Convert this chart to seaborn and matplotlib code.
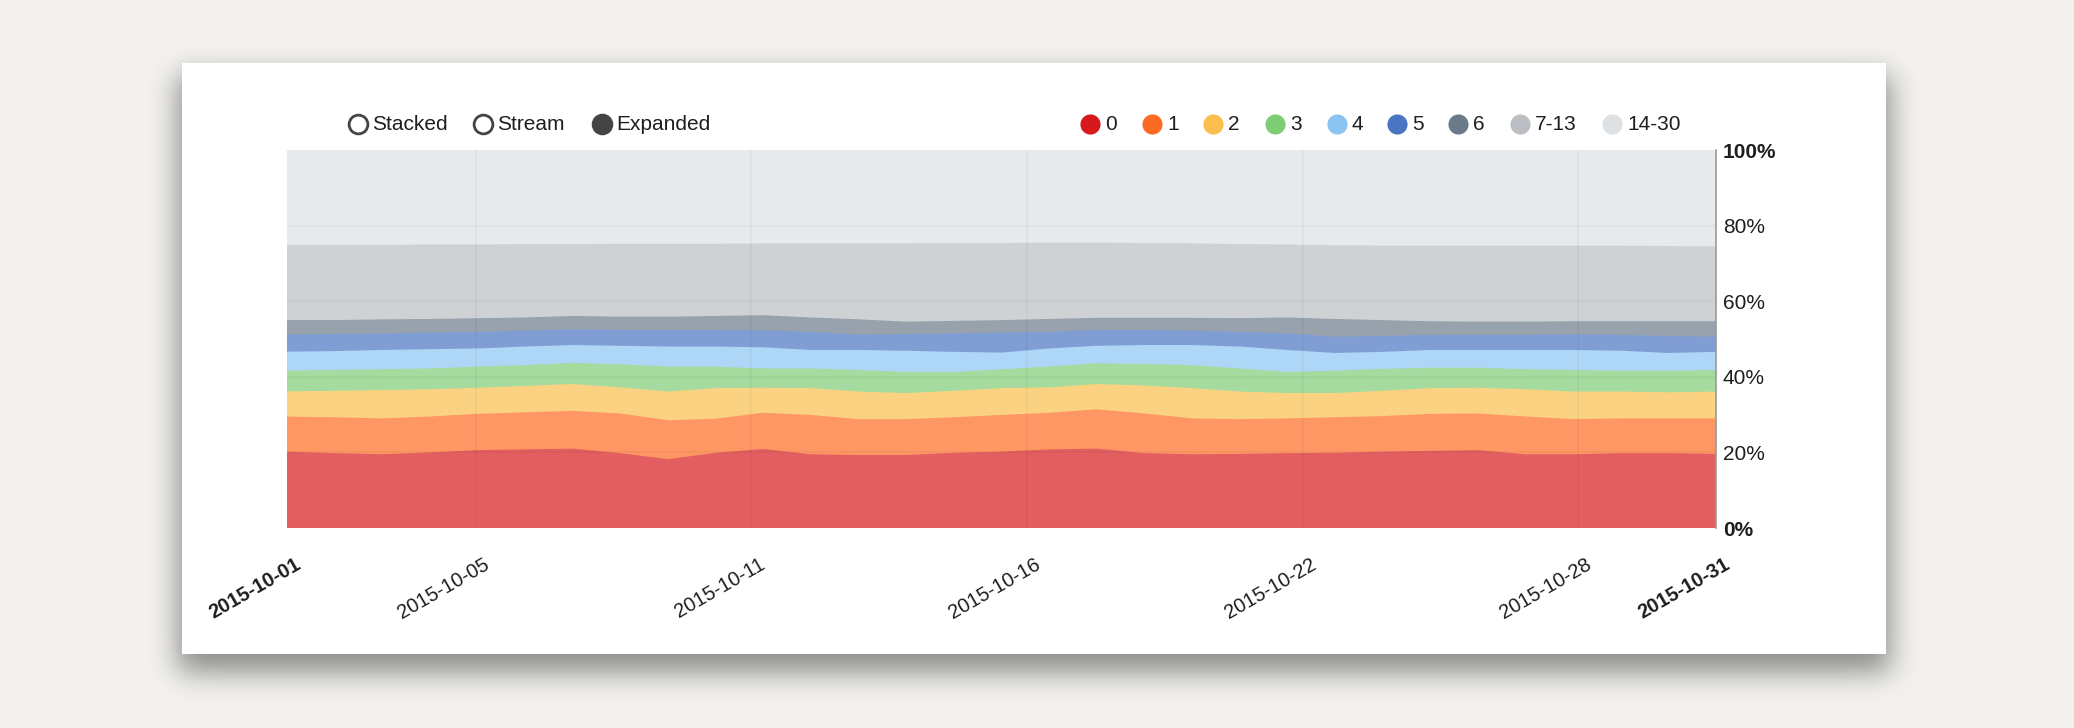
import math
import numpy as np
import pandas as pd
import matplotlib
matplotlib.use("Agg")
import matplotlib.pyplot as plt
import matplotlib.colors as mcolors
from matplotlib.patches import Rectangle
from matplotlib.transforms import ScaledTranslation
import seaborn as sns

# ---------------- data ----------------
dates = pd.date_range("2015-10-01", "2015-10-31", freq="D")
series_names = ["0", "1", "2", "3", "4", "5", "6", "7-13", "14-30"]

share_0 = [20.2, 19.8, 19.5, 20.0, 20.6, 20.8, 21.0, 19.8, 18.2, 19.9, 20.9, 19.5, 19.3, 19.3, 19.9, 20.2,
           20.8, 21.0, 19.8, 19.5, 19.6, 19.8, 19.9, 20.2, 20.4, 20.6, 19.5, 19.5, 19.8, 19.8, 19.6]
share_1 = [9.3, 9.5, 9.5, 9.5, 9.6, 9.8, 10.0, 10.5, 10.3, 9.0, 9.6, 10.4, 9.5, 9.5, 9.4, 9.7,
           9.7, 10.4, 10.5, 9.5, 9.2, 9.2, 9.4, 9.4, 9.8, 9.7, 10.0, 9.3, 9.2, 9.2, 9.4]
share_2 = [6.7, 7.0, 7.5, 7.2, 6.9, 7.0, 7.1, 6.9, 7.6, 8.1, 6.6, 7.1, 7.3, 6.9, 7.0, 7.1,
           6.7, 6.7, 7.4, 8.0, 7.3, 6.7, 6.4, 6.7, 6.8, 6.8, 7.2, 7.3, 7.1, 6.9, 7.1]
share_3 = [5.5, 5.5, 5.5, 5.5, 5.6, 5.5, 5.6, 6.1, 6.6, 5.7, 5.1, 5.2, 5.7, 5.6, 5.0, 5.0,
           5.5, 5.5, 5.7, 6.1, 6.1, 5.6, 5.9, 5.8, 5.4, 5.3, 5.3, 5.7, 5.5, 5.7, 5.7]
share_4 = [5.0, 5.0, 5.1, 5.1, 4.8, 4.9, 4.7, 4.9, 5.3, 5.3, 5.6, 4.9, 5.3, 5.6, 5.3, 4.4,
           4.8, 4.6, 5.0, 5.3, 5.8, 5.8, 4.7, 4.5, 4.7, 4.7, 5.1, 5.3, 5.3, 4.7, 4.8]
share_5 = [4.6, 4.5, 4.4, 4.4, 4.4, 4.2, 4.2, 4.2, 4.4, 4.4, 4.5, 4.8, 4.1, 4.4, 4.9, 5.3,
           4.4, 4.2, 4.0, 3.8, 3.9, 4.4, 4.3, 4.2, 4.0, 4.0, 4.0, 4.1, 4.2, 4.5, 4.0]
share_6 = [3.8, 3.7, 3.7, 3.6, 3.6, 3.5, 3.5, 3.5, 3.5, 3.7, 4.0, 3.8, 4.0, 3.3, 3.3, 3.3,
           3.4, 3.2, 3.2, 3.4, 3.6, 4.2, 4.7, 4.2, 3.6, 3.5, 3.5, 3.5, 3.6, 3.9, 4.1]
share_7_13 = [19.9, 19.9, 19.7, 19.7, 19.5, 19.4, 19.0, 19.3, 19.3, 19.1, 19.0, 19.6, 20.1, 20.7, 20.6, 20.4,
              20.2, 19.9, 19.8, 19.7, 19.6, 19.3, 19.5, 19.7, 20.0, 20.1, 20.1, 20.0, 20.0, 19.9, 19.8]
share_14_30 = [25.1, 25.1, 25.1, 25.0, 25.0, 24.9, 24.9, 24.8, 24.8, 24.8, 24.7, 24.7, 24.7, 24.7, 24.6, 24.6,
               24.5, 24.5, 24.6, 24.7, 24.9, 25.0, 25.2, 25.3, 25.3, 25.3, 25.3, 25.3, 25.3, 25.4, 25.5]

series_colors = ["#D7191C", "#FD6A21", "#F9BE4C", "#7ECC74", "#8BC4F2",
                 "#4A75C2", "#6A7A8A", "#BBBFC3", "#DDE1E4"]

mode_labels = ["Stacked", "Stream", "Expanded"]
mode_selected = [False, False, True]

x_tick_labels = ["2015-10-05", "2015-10-11", "2015-10-16", "2015-10-22", "2015-10-28"]
x_end_labels = ["2015-10-01", "2015-10-31"]
y_tick_values = [0, 20, 40, 60, 80, 100]
y_tick_labels = ["0%", "20%", "40%", "60%", "80%", "100%"]

# ---------------- style ----------------
sns.set_theme(style="white")
plt.rcParams["font.family"] = ["Liberation Sans", "DejaVu Sans"]
TEXT = "#1e1e1e"

W, H, DPI = 2074, 728, 100
fig = plt.figure(figsize=(W / DPI, H / DPI), dpi=DPI)
fig.patch.set_facecolor("#F2F1EE")

# background: paper + card + soft shadow (pixel coordinates)
bg = fig.add_axes([0, 0, 1, 1], zorder=-10)
bg.axis("off")
card = (182, 63, 1886, 654)
erf = np.vectorize(math.erf)
xs = np.arange(W) + 0.5
ys = np.arange(H) + 0.5
s = 14.0
oy = 12
fx = 0.5 * (erf((xs - card[0] + 4) / (s * 1.414)) - erf((xs - card[2] - 4) / (s * 1.414)))
fy = 0.5 * (erf((ys - card[1] - oy) / (s * 1.414)) - erf((ys - card[3] - oy - 6) / (s * 1.414)))
rgba = np.zeros((H, W, 4))
rgba[..., 3] = np.outer(fy, fx) * 0.42
bg.imshow(rgba, extent=(0, W, H, 0), interpolation="bilinear", zorder=0, aspect="auto")
bg.add_patch(Rectangle((card[0], card[1]), card[2] - card[0], card[3] - card[1],
                       facecolor="white", edgecolor="none", zorder=1))
bg.set_xlim(0, W)
bg.set_ylim(H, 0)

# ---------------- main chart ----------------
L, R, T, B = 287, 1716, 150, 528
ax = fig.add_axes([L / W, 1 - B / H, (R - L) / W, (B - T) / H])
ax.set_facecolor("none")

start = dates[0]
x = np.asarray((dates - start) / pd.Timedelta(days=1), dtype=float)
vals = np.vstack([share_0, share_1, share_2, share_3, share_4, share_5, share_6, share_7_13, share_14_30])
frac = vals / vals.sum(axis=0) * 100.0          # "Expanded" mode: normalise each day to 100 %
upper = np.cumsum(frac, axis=0)

white = np.array([1.0, 1.0, 1.0])
# draw from the top band down, each filled from 0, so adjacent bands meet without seams
for i in range(len(series_colors) - 1, -1, -1):
    rgb = np.array(mcolors.to_rgb(series_colors[i]))
    area = tuple(0.7 * rgb + 0.3 * white)
    ax.fill_between(x, 0, upper[i], facecolor=area, edgecolor="none", linewidth=0, zorder=1)

ax.set_xlim(x[0], x[-1])
ax.set_ylim(0, 100)

# x ticks: linear ticks every 5e8 ms over the time domain (as the original), plus end labels
t0 = start.value / 1e6
t1 = dates[-1].value / 1e6
step = 5e8
tick_ms = np.arange(math.ceil(t0 / step) * step, t1, step)
tick_x = (tick_ms - t0) / 86400000.0
ax.set_xticks(np.concatenate([[x[0]], tick_x, [x[-1]]]))
ax.set_xticklabels([x_end_labels[0]] + x_tick_labels + [x_end_labels[1]])
ax.set_yticks(y_tick_values)
ax.set_yticklabels(y_tick_labels)
ax.yaxis.tick_right()

ax.tick_params(axis="x", length=0, pad=25, labelsize=14.5, labelcolor=TEXT)
ax.tick_params(axis="y", length=0, pad=5, labelsize=15, labelcolor=TEXT)
shift = ScaledTranslation(12 / DPI, 0, fig.dpi_scale_trans)
xl = ax.get_xticklabels()
for i, lab in enumerate(xl):
    lab.set_rotation(30)
    lab.set_ha("right")
    lab.set_va("center")
    lab.set_rotation_mode("anchor")
    lab.set_transform(lab.get_transform() + shift)
    if i in (0, len(xl) - 1):
        lab.set_fontweight("bold")
yl = ax.get_yticklabels()
yl[0].set_fontweight("bold")
yl[-1].set_fontweight("bold")

# faint gridlines at the interior ticks
for tx in tick_x:
    ax.axvline(tx, color=(0, 0, 0, 0.035), linewidth=1.2, zorder=2)
for ty in y_tick_values[1:-1]:
    ax.axhline(ty, color=(0, 0, 0, 0.04), linewidth=1.2, zorder=2)

for side in ["left", "top", "bottom"]:
    ax.spines[side].set_visible(False)
ax.spines["right"].set_color("#9a9a9a")
ax.spines["right"].set_linewidth(1.2)
ax.grid(False)

# ---------------- legends (pixel coordinates overlay) ----------------
ov = fig.add_axes([0, 0, 1, 1], zorder=10)
ov.set_xlim(0, W)
ov.set_ylim(H, 0)
ov.axis("off")
ov.patch.set_alpha(0)

ly = 124
mode_x = [358, 483, 602]
for mx, lab, sel in zip(mode_x, mode_labels, mode_selected):
    ov.plot([mx], [ly], marker="o", markersize=13.5, markeredgewidth=2.0,
            markeredgecolor="#444444", markerfacecolor="#444444" if sel else "white", linestyle="none")
    ov.text(mx + 14, ly, lab, fontsize=15, color=TEXT, va="center", ha="left")

leg_x = [1090, 1152, 1213, 1275, 1337, 1397, 1458, 1520, 1612]
for lx, name, c in zip(leg_x, series_names, series_colors):
    ov.plot([lx], [ly], marker="o", markersize=14.5, markeredgewidth=0,
            markerfacecolor=c, linestyle="none")
    ov.text(lx + 15, ly, name, fontsize=15, color=TEXT, va="center", ha="left")

fig.savefig("out.png", dpi=DPI, facecolor=fig.get_facecolor())
